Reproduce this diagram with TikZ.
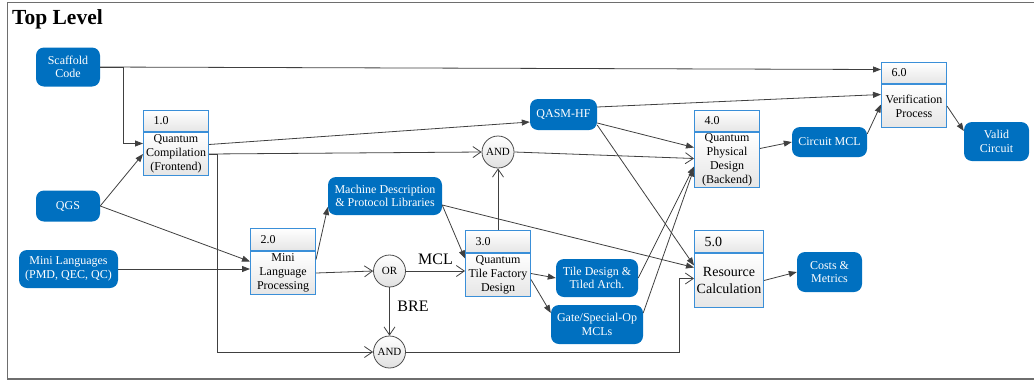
\documentclass[tikz,border=0pt]{standalone}
\usepackage{fontspec}
\setmainfont{Liberation Serif}
\newfontfamily\diagfont{Liberation Serif}
\usetikzlibrary{arrows.meta,calc}
\definecolor{flowblue}{HTML}{0070C0}
\definecolor{edgeblue}{HTML}{3A8FD8}
\definecolor{wire}{HTML}{404040}
\definecolor{framegray}{HTML}{6E6E6E}
\begin{document}
\begin{tikzpicture}[x=1pt,y=-1pt,
  term/.style={rectangle, rounded corners=8pt, fill=flowblue, text=white,
    font=\diagfont\fontsize{12}{13.5}\selectfont, align=center, inner sep=0pt},
  hdr/.style={rectangle, draw=edgeblue, line width=1pt, top color=white,
    bottom color=black!10, anchor=north west, minimum height=21pt,
    font=\diagfont\fontsize{12}{14}\selectfont, align=left, inner xsep=10pt, inner ysep=0pt},
  procbody/.style={rectangle, draw=edgeblue, line width=1pt, top color=white,
    bottom color=black!10, anchor=north, align=center, inner sep=0pt,
    font=\diagfont\fontsize{12}{14}\selectfont},
  junction/.style={circle, draw=black!70, line width=0.8pt, top color=white,
    bottom color=black!12, minimum size=32pt, inner sep=0pt,
    font=\diagfont\fontsize{11}{12}\selectfont},
  flow/.style={draw=wire, line width=0.8pt, -{Triangle[length=8pt,width=6pt]}},
  merge/.style={draw=wire, line width=0.8pt, -{Straight Barb[length=8pt,width=11pt]}},
  tag/.style={font=\diagfont\fontsize{16}{16}\selectfont, inner sep=0pt}
]
\useasboundingbox (0,0) rectangle (1034,381);

% outer frame and heading
\draw[framegray, line width=1pt] (1034,2) -- (7,2) -- (7,379);
\draw[framegray, line width=1.6pt] (7,379) -- (1034,379);
\node[anchor=north west, inner sep=0pt, font=\diagfont\bfseries\fontsize{21.5}{22}\selectfont]
  (title) at (12,9) {Top Level};

% external inputs / outputs
\node[term, minimum width=64pt, minimum height=39pt] (sc) at (68,67) {Scaffold\\Code};
\node[term, minimum width=64pt, minimum height=31pt] (qgs) at (68,206) {QGS};
\node[term, minimum width=99pt, minimum height=38pt] (ml) at (68.5,269) {Mini Languages\\(PMD, QEC, QC)};
\node[term, minimum width=67pt, minimum height=31pt] (qasm) at (563.5,114.5) {QASM-HF};
\node[term, minimum width=114pt, minimum height=38pt] (md) at (385,196) {Machine Description\\\& Protocol Libraries};
\node[term, minimum width=82pt, minimum height=38pt] (tile) at (597,278) {Tile Design \&\\Tiled Arch.};
\node[term, minimum width=92pt, minimum height=39pt] (gsop) at (597,324.5) {Gate/Special-Op\\MCLs};
\node[term, minimum width=75pt, minimum height=30pt] (cmcl) at (829.5,142) {Circuit MCL};
\node[term, minimum width=65pt, minimum height=39pt] (valid) at (996.5,141.5) {Valid\\Circuit};
\node[term, minimum width=65pt, minimum height=40pt] (costs) at (829.5,272) {Costs \&\\Metrics};

% process boxes: numbered header above a body
\node[hdr, text width=45pt] (p1h) at (143,110) {1.0};
\node[procbody, minimum width=65pt, minimum height=43pt] (p1) at (p1h.south) {Quantum\\Compilation\\(Frontend)};
\node[hdr, text width=45pt, minimum height=22pt] (p2h) at (250,228) {2.0};
\node[procbody, minimum width=65pt, minimum height=43pt] (p2) at (p2h.south) {Mini\\Language\\Processing};
\node[hdr, text width=45pt, minimum height=22pt] (p3h) at (465,230) {3.0};
\node[procbody, minimum width=65pt, minimum height=43pt] (p3) at (p3h.south) {Quantum\\Tile Factory\\Design};
\node[hdr, text width=45pt] (p4h) at (694,110) {4.0};
\node[procbody, minimum width=65pt, minimum height=55pt] (p4) at (p4h.south) {Quantum\\Physical\\Design\\(Backend)};
\node[hdr, text width=49pt, minimum height=22pt, font=\diagfont\fontsize{14}{16}\selectfont] (p5h) at (694,230) {5.0};
\node[procbody, minimum width=69pt, minimum height=54pt, font=\diagfont\fontsize{14}{17}\selectfont] (p5) at (p5h.south) {Resource\\Calculation};
\node[hdr, text width=45pt] (p6h) at (881,62) {6.0};
\node[procbody, minimum width=65pt, minimum height=43pt] (p6) at (p6h.south) {Verification\\Process};

% logic junctions
\node[junction] (and1) at (498,152) {AND};
\node[junction] (orj) at (389.5,271) {OR};
\node[junction] (and2) at (389.5,352) {AND};

% connectors
\draw[flow] (sc.east) -- ([yshift=3.5pt]p6h.west);
\draw[flow] (sc.east) -- ++(23,0) |- ([yshift=10.5pt]p1.west);
\draw[flow] (qgs.east) -- (p1.west);
\draw[flow] (qgs.east) -- ([yshift=11.5pt]p2.west);
\draw[flow] (ml.east) -- (ml.east -| p2.west);

\draw[flow] ([yshift=9.5pt]p1.east) -- ([yshift=-7.5pt]qasm.west);
\draw[merge] (p1.east) -- (and1.west);
\draw[merge] (p1.east) -- ++(8,0) |- (and2.west);

\draw[flow] ([yshift=13.5pt]p2.east) -- ([yshift=-11pt]md.west);
\draw[merge] (p2.east) -- (orj.west);
\draw[merge] (orj.east) -- node[tag, midway, yshift=12pt] {MCL} (orj.east -| p3.west);
\draw[merge] (orj.south) -- node[tag, midway, xshift=23.5pt, yshift=5.5pt] {BRE} (and2.north);

\draw[flow] ([yshift=-9pt]md.east) -- ([yshift=16.5pt]p3.west);
\draw[flow] ([yshift=-9pt]md.east) -- ([yshift=13pt]p5.west);

\draw[merge] (p3h.north) -- (and1.south);
\draw[flow] ([yshift=1.5pt]p3.east) -- (tile.west);
\draw[flow] ([yshift=-4.5pt]p3.east) -- ([yshift=11.5pt]gsop.west);

\draw[merge] (and1.east) -- ([yshift=1.5pt]p4.west);
\draw[flow] ([yshift=-8.5pt]qasm.east) -- ([yshift=12.5pt]p4.west);
\draw[flow] ([yshift=-10.5pt]qasm.east) -- ([yshift=15pt]p5.west);
\draw[flow] ([yshift=7.5pt]qasm.east) -- ([yshift=11.5pt]p6.west);

\draw[flow] (tile.east) -- ([yshift=-6.5pt]p4.west);
\draw[flow] ([yshift=11.5pt]gsop.east) -- ([yshift=-8.5pt]p4.west);

\draw[flow] ([yshift=11.5pt]p4.east) -- (cmcl.west);
\draw[flow] ([yshift=8pt]cmcl.east) -- ([yshift=1.5pt]p6.west);
\draw[flow] (p6.east) -- ([yshift=10.5pt]valid.west);

\draw[flow] (p5.east) -- (costs.west);
\draw[merge] (and2.east) -- ++(273,0) |- ([yshift=2pt]p5.west);
\end{tikzpicture}
\end{document}
